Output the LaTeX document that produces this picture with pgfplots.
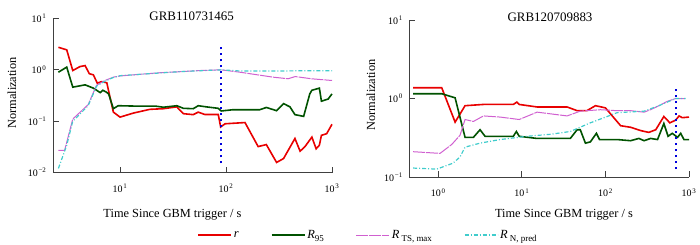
\documentclass[border=0pt]{standalone}
\usepackage{fontspec}
\setmainfont{Liberation Serif}
\usepackage{pgfplots}
\pgfplotsset{compat=1.18}
\definecolor{cr}{HTML}{E80000}
\definecolor{cg}{HTML}{005200}
\definecolor{cm}{HTML}{D060D0}
\definecolor{cc}{HTML}{40CCCC}
\definecolor{cb}{HTML}{0000DD}
\newcommand{\tp}[1]{10\kern0.8pt\textsuperscript{#1}}
\newcommand{\sub}[1]{\raisebox{-0.28em}{\fontsize{9}{10}\selectfont #1}}
\tikzset{
 redline/.style={color=cr, line width=1.6bp},
 greenline/.style={color=cg, line width=1.6bp},
 magline/.style={color=cm, line width=1bp, dash pattern=on 12bp off 1bp},
 cyanline/.style={color=cc, line width=1.2bp, dash pattern=on 4bp off 2bp on 1bp off 2bp},
 blueline/.style={color=cb, line width=2bp, dash pattern=on 2bp off 4bp},
}
\pgfplotsset{grbaxis/.style={
  scale only axis,
  axis x line=bottom, axis y line=left,
  axis line style={-, color=black!75, line width=0.9bp},
  tick align=inside, major tick length=6bp,
  tick style={color=black!75, line width=0.9bp},
  xminorticks=false, yminorticks=false, xmax=1000,
  ticklabel style={font=\fontsize{10}{12}\selectfont},
  xticklabel style={yshift=-8bp},
  yticklabel style={xshift=-3bp},
  label style={font=\fontsize{12.4}{14}\selectfont},
  title style={font=\fontsize{13}{15}\selectfont, anchor=center},
  xlabel={Time Since GBM trigger / s}, ylabel={Normalization},
  clip=false,
 }}
\begin{document}
\begin{tikzpicture}
\path[use as bounding box] (0,0) rectangle (700bp,-245bp);
\begin{axis}[xmode=log, ymode=log, grbaxis, at={(53bp,-172.5bp)}, anchor=south west,
  width=279bp, height=154bp, xmin=2.33, ymin=0.01, ymax=10,
  xtick={10,100,1000}, xticklabels={\tp{1},\tp{2},\tp{3}},
  ytick={0.01,0.1,1,10}, yticklabels={\tp{−2},\tp{−1},\tp{0},\tp{1}},
  title={GRB110731465},
  title style={at={(axis description cs:0.497,0.973)}},
  xlabel style={at={(axis description cs:0.428,-0.276)}, anchor=center},
  ylabel style={at={(axis description cs:-0.147,0.516)}, anchor=center},
  legend columns=4,
  legend image code/.code={\draw[#1] (0bp,0bp) -- (33bp,0bp);},
  legend style={at={(axis description cs:1.129,-0.406)}, anchor=center, draw=none, fill=none,
    font=\fontsize{12.5}{14}\selectfont,
    /tikz/every even column/.append style={column sep=30bp}},
]
\addplot[redline] coordinates {(2.62,2.75)(3.14,2.45)(3.58,0.97)(4.2,1.16)(4.68,1.21)(5.13,0.84)(5.6,0.8)(6.1,0.55)(6.7,0.59)(7.5,0.56)(8.65,0.15)(10,0.12)(13.4,0.144)(19.1,0.17)(25.6,0.175)(34.3,0.19)(39.6,0.14)(49,0.134)(54.7,0.15)(63,0.135)(84.5,0.135)(89,0.077)(98,0.089)(151,0.094)(201,0.032)(240,0.035)(300,0.0157)(349,0.0187)(447,0.046)(500,0.026)(556,0.032)(646,0.049)(708,0.029)(760,0.034)(795,0.053)(890,0.057)(1000,0.087)};
\addlegendentry{\textit{r}}
\addplot[greenline] coordinates {(2.62,0.9)(3.14,1.13)(3.58,0.46)(4.68,0.51)(5.6,0.44)(6.5,0.36)(6.87,0.4)(7.4,0.37)(7.8,0.34)(8.65,0.175)(9.6,0.2)(13.4,0.197)(21.4,0.197)(25.6,0.187)(34.3,0.2)(39.6,0.178)(49,0.175)(54.7,0.2)(65,0.19)(84.5,0.178)(90,0.158)(116,0.167)(208,0.167)(240,0.185)(300,0.16)(349,0.22)(401,0.19)(447,0.134)(540,0.124)(617,0.34)(646,0.4)(760,0.44)(795,0.245)(920,0.27)(1000,0.34)};
\addlegendentry{\textit{R}\sub{95}}
\addplot[magline] coordinates {(2.62,0.027)(3.0,0.027)(3.58,0.11)(5.0,0.21)(6.0,0.5)(7.2,0.62)(8.65,0.72)(10,0.76)(24,0.88)(40,0.93)(57,0.97)(90,1.0)(135,0.9)(278,0.72)(385,0.67)(450,0.74)(640,0.67)(1000,0.62)};
\addlegendentry{\textit{R}\,\sub{TS, max}}
\addplot[cyanline] coordinates {(2.62,0.012)(3.14,0.034)(3.58,0.1)(5,0.2)(6,0.48)(7.2,0.6)(8.65,0.71)(10,0.77)(24,0.87)(40,0.93)(57,0.96)(90,1.0)(135,0.95)(300,0.95)(600,0.96)(1000,0.96)};
\addlegendentry{\textit{R}\,\sub{N, pred}}
\addplot[blueline, forget plot] coordinates {(89,0.015)(89,2.9)};
\end{axis}
\begin{axis}[xmode=log, ymode=log, grbaxis, at={(409.3bp,-177bp)}, anchor=south west,
  width=279.7bp, height=157bp, xmin=0.45, ymin=0.1, ymax=10,
  xtick={1,10,100,1000}, xticklabels={\tp{0},\tp{1},\tp{2},\tp{3}},
  ytick={0.1,1,10}, yticklabels={\tp{−1},\tp{0},\tp{1}},
  title={GRB120709883},
  title style={at={(axis description cs:0.503,0.981)}},
  xlabel style={at={(axis description cs:0.553,-0.242)}, anchor=center},
  ylabel style={at={(axis description cs:-0.137,0.522)}, anchor=center},
]
\addplot[redline] coordinates {(0.5,1.37)(1.1,1.37)(1.59,0.5)(2.09,0.81)(3.47,0.84)(7.9,0.84)(8.7,0.9)(9.3,0.84)(15.2,0.78)(34.8,0.78)(45.8,0.7)(60,0.7)(76,0.81)(100,0.76)(152,0.45)(200,0.43)(265,0.39)(330,0.37)(400,0.4)(500,0.59)(590,0.49)(692,0.53)(760,0.6)(830,0.57)(1000,0.58)};
\addplot[greenline] coordinates {(0.5,1.15)(1.1,1.15)(1.59,1.02)(2.09,0.32)(2.63,0.32)(3.16,0.4)(3.63,0.33)(7.9,0.33)(8.6,0.38)(9.3,0.33)(15.2,0.31)(38,0.31)(45.8,0.4)(50,0.4)(57.6,0.27)(66,0.28)(78,0.36)(85,0.3)(138,0.3)(200,0.29)(251,0.31)(290,0.29)(347,0.31)(420,0.3)(500,0.48)(562,0.33)(630,0.36)(730,0.32)(795,0.36)(870,0.3)(1000,0.3)};
\addplot[magline] coordinates {(0.5,0.21)(1.05,0.2)(1.45,0.26)(1.82,0.34)(2.09,0.54)(2.63,0.51)(3.47,0.6)(5.5,0.58)(9.3,0.54)(15.2,0.67)(34.8,0.6)(50,0.69)(87,0.72)(138,0.7)(200,0.7)(290,0.67)(347,0.72)(437,0.81)(550,0.92)(692,1.0)(910,1.0)};
\addplot[cyanline] coordinates {(0.5,0.13)(0.96,0.126)(1.5,0.15)(1.82,0.18)(2.09,0.24)(3.16,0.27)(5.5,0.3)(11.5,0.33)(22,0.35)(38,0.38)(66,0.49)(105,0.59)(138,0.66)(290,0.69)(437,0.81)(692,1.0)(910,1.0)};
\addplot[blueline] coordinates {(708,0.126)(708,1.37)};
\end{axis}
\end{tikzpicture}
\end{document}
